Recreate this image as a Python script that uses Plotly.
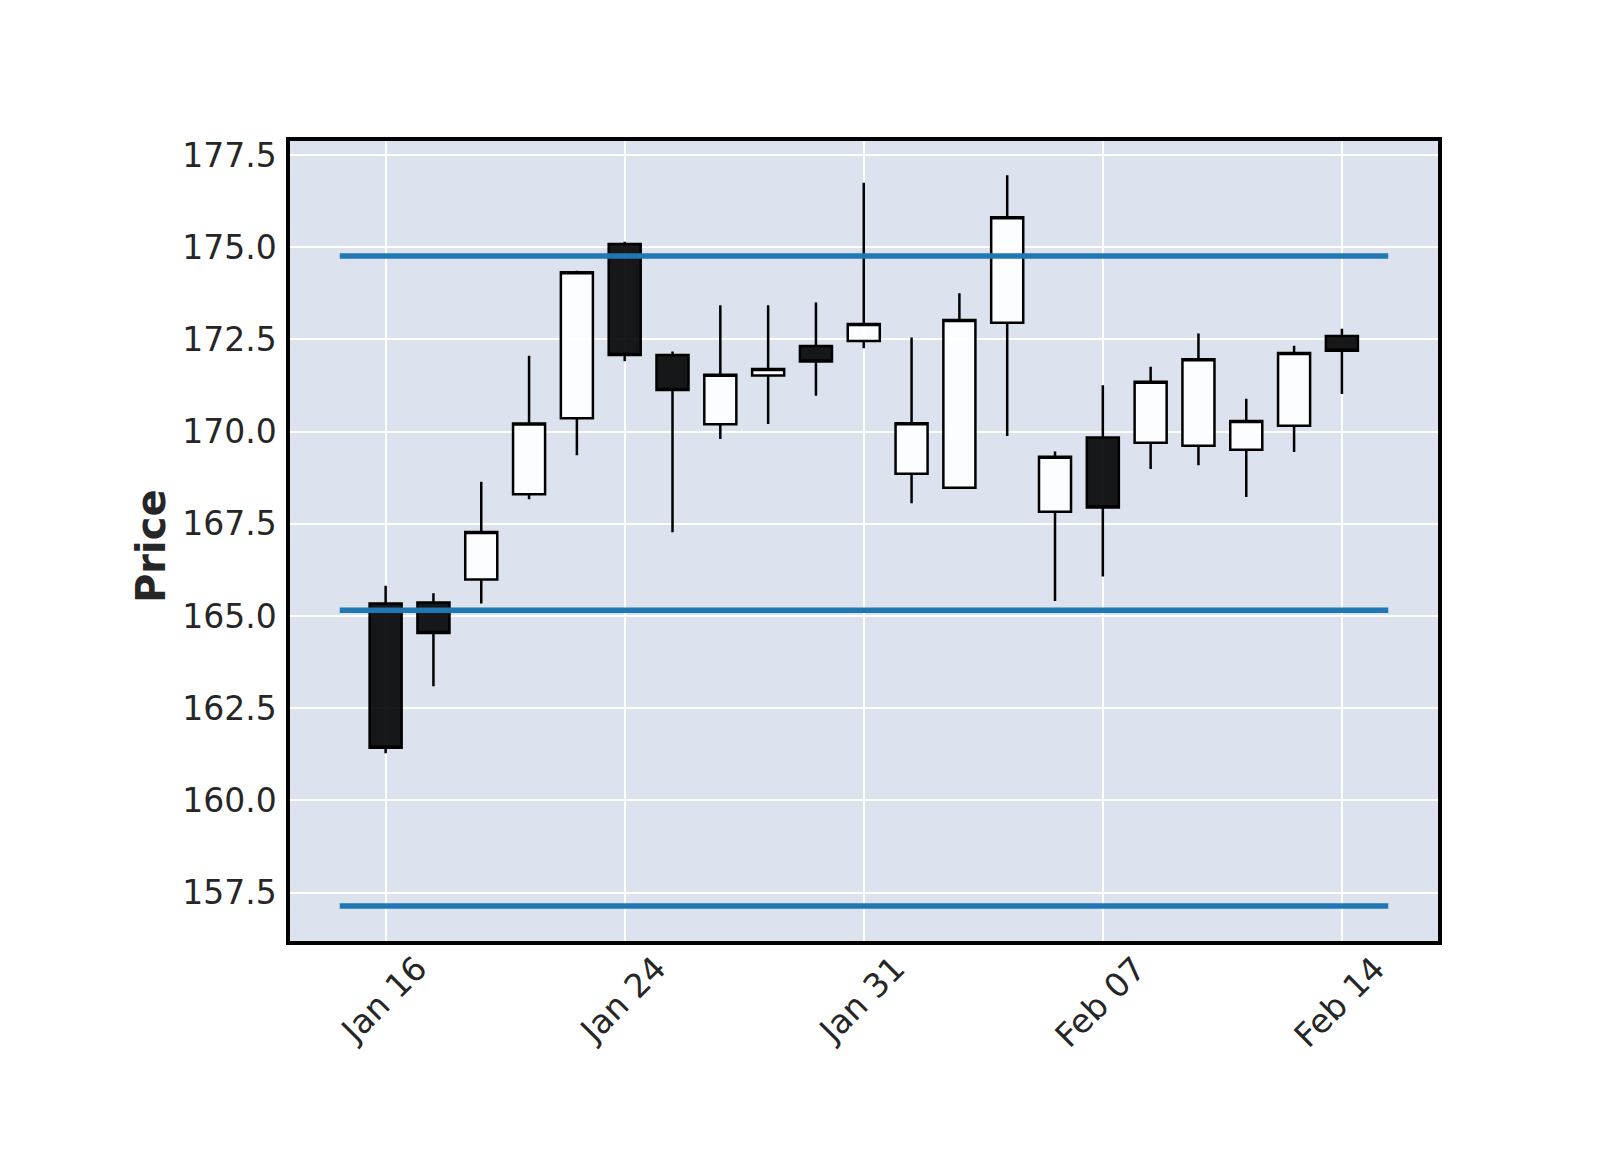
import plotly.graph_objects as go
from datetime import datetime

# ---- data ----
dates = ["2025-01-16", "2025-01-17", "2025-01-21", "2025-01-22", "2025-01-23",
         "2025-01-24", "2025-01-27", "2025-01-28", "2025-01-29", "2025-01-30",
         "2025-01-31", "2025-02-03", "2025-02-04", "2025-02-05", "2025-02-06",
         "2025-02-07", "2025-02-10", "2025-02-11", "2025-02-12", "2025-02-13",
         "2025-02-14"]
open_ = [165.34, 165.37, 165.99, 168.30, 170.36, 175.09, 172.08, 170.20, 171.52, 172.32,
         172.46, 168.86, 168.48, 172.95, 167.83, 169.84, 169.70, 169.62, 169.51, 170.16,
         172.59]
high = [165.82, 165.62, 168.64, 172.06, 174.36, 175.15, 172.17, 173.43, 173.43, 173.50,
        176.75, 172.55, 173.75, 176.95, 169.46, 171.26, 171.76, 172.66, 170.89, 172.33,
        172.79]
low = [161.28, 163.10, 165.34, 168.17, 169.36, 171.91, 167.27, 169.80, 170.21, 170.97,
       172.26, 168.06, 168.48, 169.88, 165.41, 166.07, 168.99, 169.09, 168.23, 169.45,
       171.02]
close = [161.43, 164.54, 167.28, 170.22, 174.32, 172.08, 171.13, 171.54, 171.70, 171.90,
         172.92, 170.23, 173.03, 175.81, 169.32, 167.94, 171.35, 171.96, 170.29, 172.13,
         172.19]
hline_levels = [174.76, 165.16, 157.14]
tick_every = 5
y_ticks = [157.5, 160.0, 162.5, 165.0, 167.5, 170.0, 172.5, 175.0, 177.5]
y_label = "Price"

# ---- derived ----
n = len(dates)
xs = list(range(n))
tick_idx = list(range(0, n, tick_every))
tick_text = [datetime.strptime(dates[i], "%Y-%m-%d").strftime("%b %d") for i in tick_idx]

FONT = "DejaVu Sans"
TXT = "#262626"

fig = go.Figure()
fig.add_trace(go.Candlestick(
    x=xs, open=open_, high=high, low=low, close=close,
    increasing=dict(fillcolor="rgba(255,255,255,0.9)", line=dict(color="black", width=2.5)),
    decreasing=dict(fillcolor="rgba(0,0,0,0.9)", line=dict(color="black", width=2.5)),
    whiskerwidth=0, showlegend=False, hoverinfo="skip",
))

for lvl in hline_levels:
    fig.add_trace(go.Scatter(
        x=[xs[0] - 0.96, xs[-1] + 0.97], y=[lvl, lvl], mode="lines",
        line=dict(color="#1f77b4", width=5.5), showlegend=False, hoverinfo="skip",
    ))

annotations = []
for i, t in zip(tick_idx, tick_text):
    annotations.append(dict(
        x=i, xref="x", y=0, yref="paper", text=t, showarrow=False,
        textangle=-45, xanchor="center", yanchor="top", yshift=-5, xshift=-2,
        font=dict(family=FONT, size=33, color=TXT),
    ))
annotations.append(dict(
    x=0, xref="paper", y=0.5, yref="paper", text="<b>" + y_label + "</b>",
    showarrow=False, textangle=-90, xanchor="center", yanchor="middle",
    xshift=-139, yshift=-5,
    font=dict(family=FONT, size=40, color=TXT),
))

fig.update_layout(
    width=1600, height=1150,
    margin=dict(l=290, r=162, t=141, b=209),
    paper_bgcolor="white", plot_bgcolor="#DCE3EF",
    boxgap=0.33, boxgroupgap=0,
    showlegend=False,
    annotations=annotations,
    font=dict(family=FONT, size=33, color=TXT),
)
fig.update_xaxes(
    range=[-2.0, 22.01], tickvals=tick_idx, ticktext=tick_text, showticklabels=False,
    showgrid=True, gridcolor="white", gridwidth=2, zeroline=False,
    showline=True, mirror=True, linecolor="black", linewidth=3.5, ticks="",
    rangeslider=dict(visible=False),
)
fig.update_yaxes(
    range=[156.19, 177.88], tickvals=y_ticks, tickformat=".1f",
    showgrid=True, gridcolor="white", gridwidth=2, zeroline=False,
    showline=True, mirror=True, linecolor="black", linewidth=3.5, ticks="",
    ticklabelstandoff=3,
    tickfont=dict(family=FONT, size=33, color=TXT),
)

fig.write_html("out.html")
